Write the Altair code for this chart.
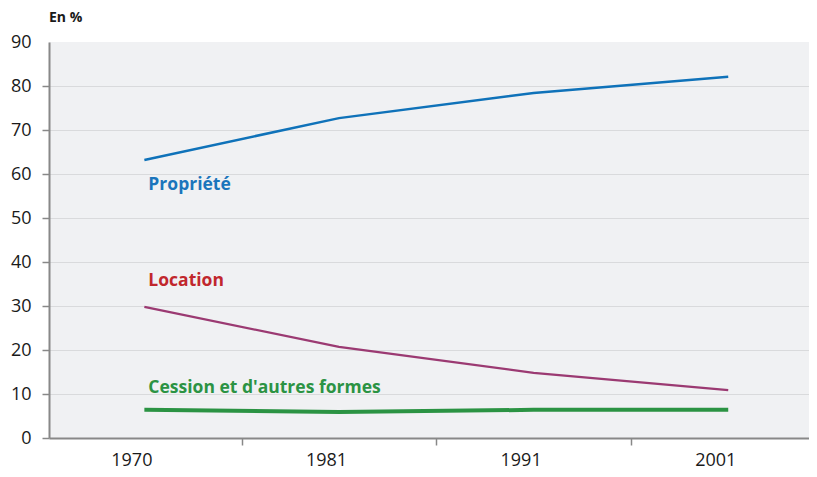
import altair as alt
import pandas as pd

years = ["1970", "1981", "1991", "2001"]
propriete = [63.2, 72.7, 78.4, 82.1]
location = [29.8, 20.7, 14.8, 10.9]
cession = [6.4, 5.9, 6.4, 6.4]

series_names = ["Propriété", "Location", "Cession et d'autres formes"]
line_colors = ["#0f72b9", "#9b3a72", "#2b9343"]
label_colors = ["#1a75bc", "#c1272d", "#2b9343"]
line_widths = [2.5, 2.2, 4]
label_values = [56.4, 34.5, 10.2]

FONT = "Open Sans"

x_scale = alt.Scale(domain=[-0.49, 3.415], nice=False, zero=False)
y_scale = alt.Scale(domain=[0, 90], nice=False)

label_expr = "datum.value % 1 === 0 ? " + str(years) + "[datum.value] : ''"

x_axis = alt.Axis(
    values=[0, 0.5, 1, 1.5, 2, 2.5, 3],
    labelExpr=label_expr,
    title=None,
    grid=False,
    tickOpacity={"condition": {"test": "datum.value % 1 === 0", "value": 0}, "value": 1},
    tickSize=7,
    tickWidth=1.5,
    tickColor="#888888",
    domainColor="#888888",
    domainWidth=2,
    labelFont=FONT,
    labelFontSize=18,
    labelColor="#1a1a1a",
    labelPadding=6,
    labelOffset=-13,
    labelOverlap=False,
    labelFlush=False,
)

y_axis = alt.Axis(
    values=list(range(0, 100, 10)),
    title=None,
    grid=True,
    gridColor="#d9dadc",
    gridWidth=1.2,
    gridOpacity={"condition": {"test": "datum.value === 0 || datum.value === 90", "value": 0}, "value": 1},
    tickOpacity={"condition": {"test": "datum.value === 90", "value": 0}, "value": 1},
    tickSize=7,
    tickWidth=1.5,
    tickColor="#888888",
    domainColor="#888888",
    domainWidth=2,
    labelFont=FONT,
    labelFontSize=18,
    labelColor="#1a1a1a",
    labelPadding=11,
)

rows = []
for name, vals in zip(series_names, [propriete, location, cession]):
    for i, v in enumerate(vals):
        rows.append({"idx": i, "year": years[i], "serie": name, "value": v})
df = pd.DataFrame(rows)

base = alt.Chart(df).encode(
    x=alt.X("idx:Q", scale=x_scale, axis=x_axis),
    y=alt.Y("value:Q", scale=y_scale, axis=y_axis),
)

layers = []
for k, name in enumerate(series_names):
    layers.append(
        base.transform_filter(alt.datum.serie == name).mark_line(
            strokeCap="butt", color=line_colors[k], strokeWidth=line_widths[k]
        )
    )

lab = pd.DataFrame({"idx": [0, 0, 0], "serie": series_names, "value": label_values})
labels = alt.Chart(lab).mark_text(
    align="left", baseline="alphabetic", dx=4, font=FONT, fontSize=17.5, fontWeight="bold"
).encode(
    x=alt.X("idx:Q", scale=x_scale, axis=x_axis),
    y=alt.Y("value:Q", scale=y_scale, axis=y_axis),
    text="serie:N",
    color=alt.Color("serie:N", scale=alt.Scale(domain=series_names, range=label_colors), legend=None),
)

chart = alt.layer(*layers, labels).properties(
    width=760,
    height=396,
    autosize=alt.AutoSizeParams(type="none"),
    padding={"left": 41, "top": 34, "right": 0, "bottom": 31},
    title=alt.TitleParams("En %", anchor="start", frame="group", font=FONT, fontSize=14,
                          fontWeight="bold", color="#1a1a1a", offset=8),
).configure(
    background="white",
    view=alt.ViewConfig(fill="#f0f1f3", stroke=None),
)

chart.save("out.html", embed_options={"renderer": "svg", "actions": False})
